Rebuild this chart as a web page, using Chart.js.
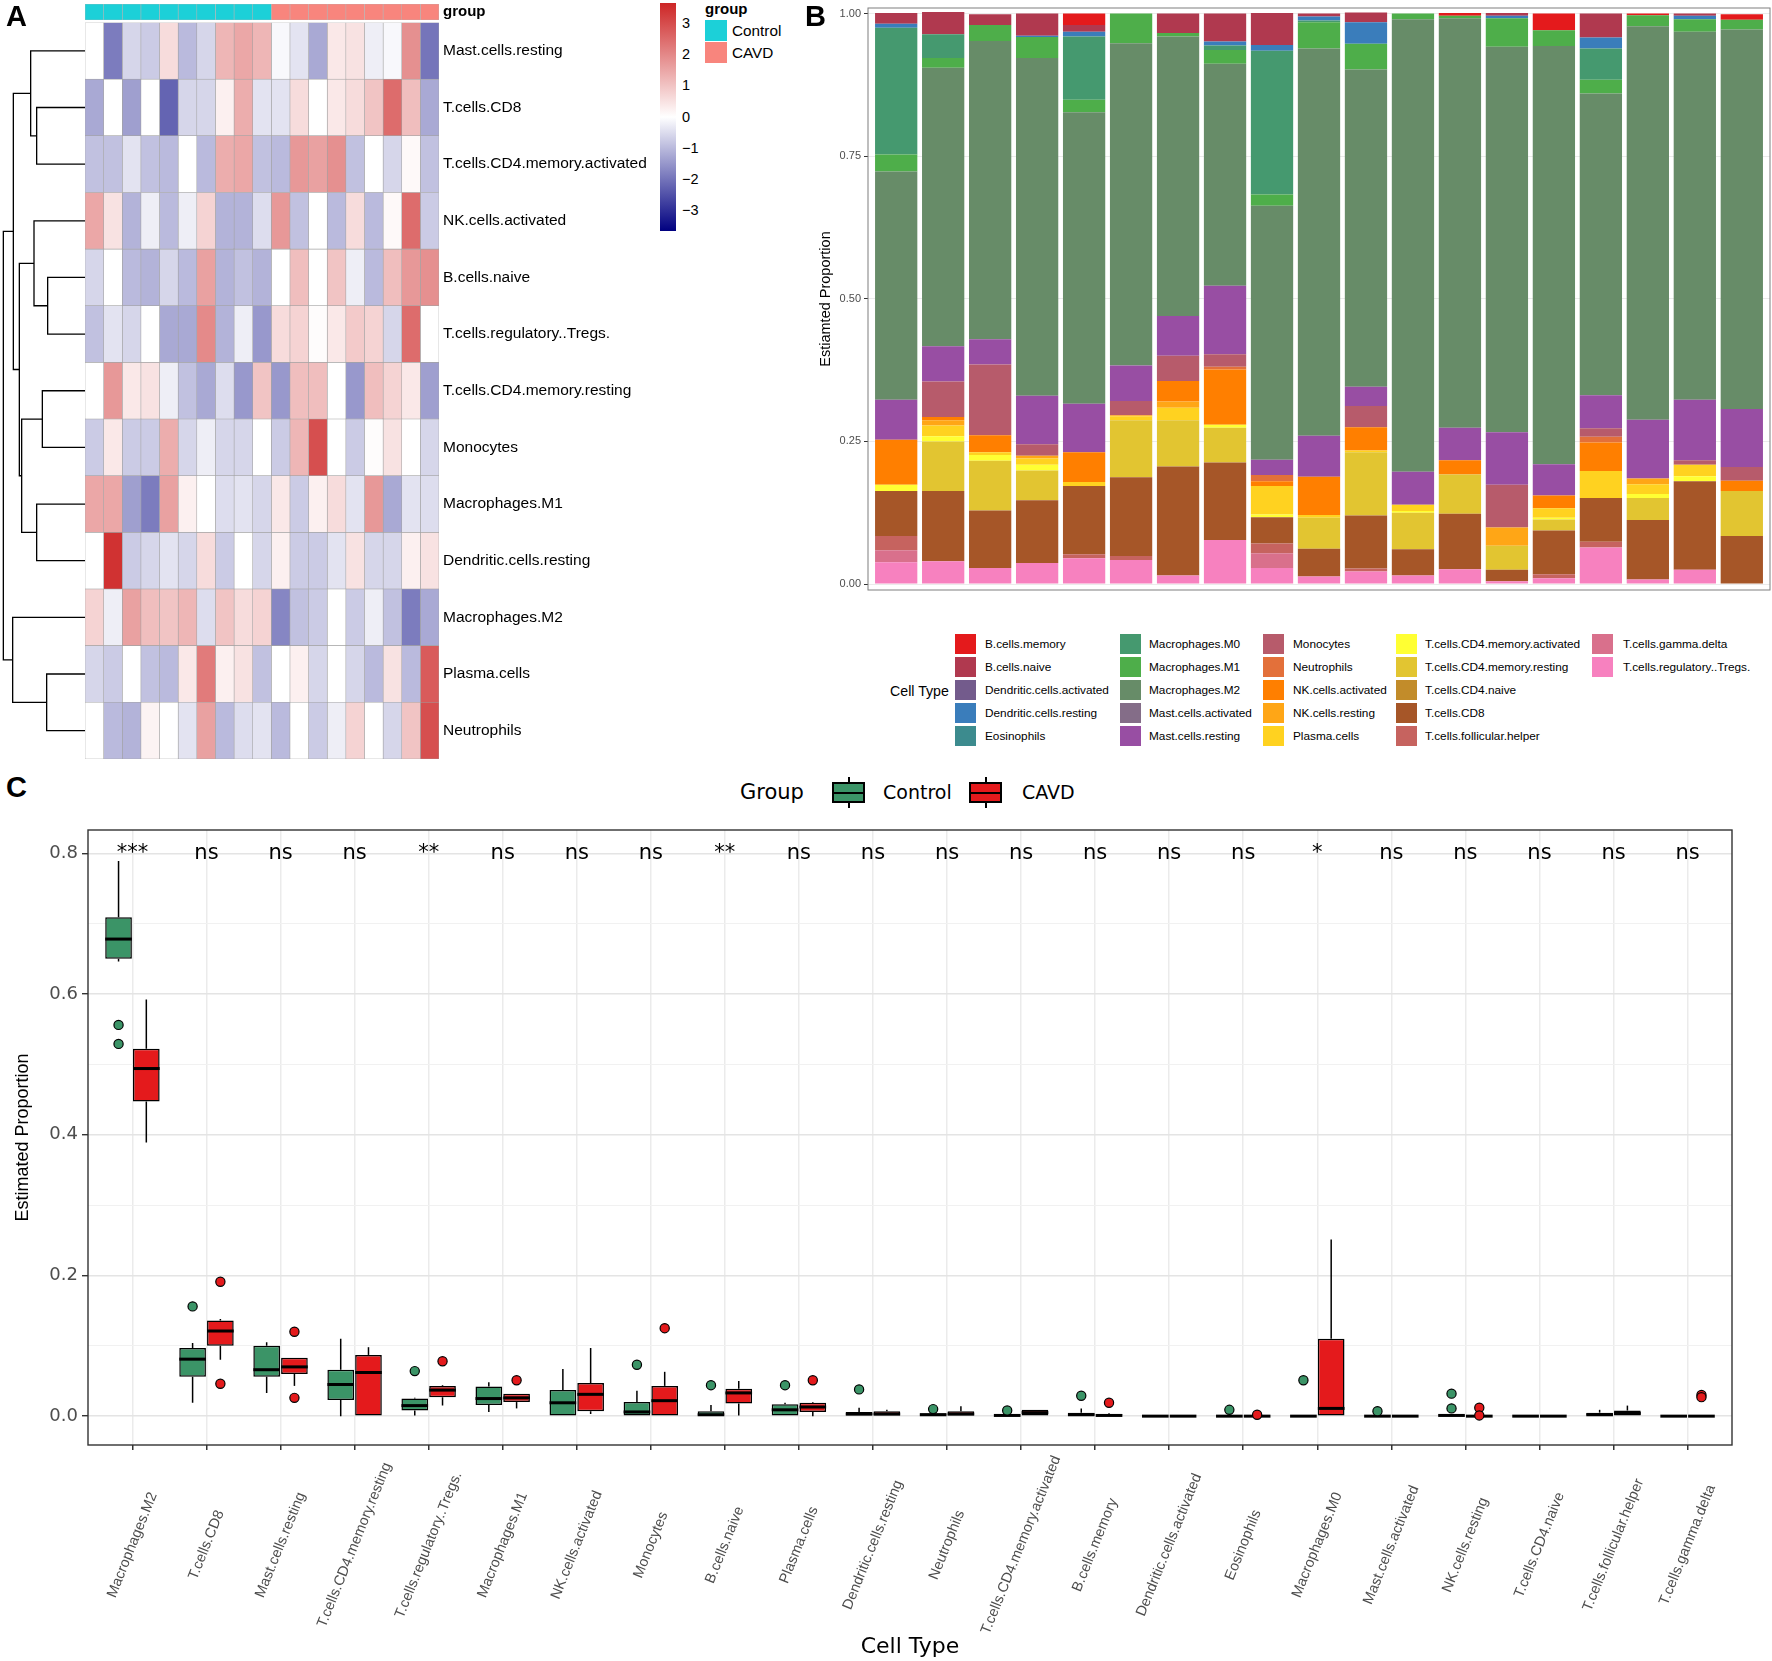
<!DOCTYPE html>
<html><head><meta charset="utf-8">
<script src="https://cdn.jsdelivr.net/npm/chart.js@4.4.1/dist/chart.umd.min.js"></script>
<style>
html,body{margin:0;padding:0;background:#fff;}
#wrap{position:relative;width:1772px;height:1661px;background:#fff;overflow:hidden;font-family:'Liberation Sans',Arial,sans-serif;color:#000;}
#wrap canvas{position:absolute;}
.t{position:absolute;white-space:nowrap;}
.box{position:absolute;}
</style></head>
<body><div id="wrap"></div>
<script>
// ===================== DATA =====================
// Panel A heatmap
const sampleIds = ['S1','S2','S3','S4','S5','S6','S7','S8','S9','S10','S11','S12','S13','S14','S15','S16','S17','S18','S19'];
const sampleGroup = ['Control','Control','Control','Control','Control','Control','Control','Control','Control','Control','CAVD','CAVD','CAVD','CAVD','CAVD','CAVD','CAVD','CAVD','CAVD'];
const heatRows = ['Mast.cells.resting','T.cells.CD8','T.cells.CD4.memory.activated','NK.cells.activated','B.cells.naive','T.cells.regulatory..Tregs.','T.cells.CD4.memory.resting','Monocytes','Macrophages.M1','Dendritic.cells.resting','Macrophages.M2','Plasma.cells','Neutrophils'];
const zMastResting = [0,-1.9,-0.6,-0.75,0.6,-1.0,-0.6,1.25,1.5,1.25,-0.1,-0.4,-1.25,0.4,0.5,-0.25,-0.1,1.9,-2.0];
const zTCD8        = [-1.25,0,-1.4,0,-2.25,-0.6,-0.6,0.25,1.4,-0.4,-0.4,0.6,0,0.4,0.6,1.0,2.5,1.1,-1.25];
const zTCD4MemAct  = [-0.9,-0.9,-0.4,-0.9,-1.0,0,-1.0,1.4,1.5,-0.9,-1.0,1.75,1.6,1.9,-0.9,0,-0.6,0.1,-0.9];
const zNKAct       = [1.5,0.5,-1.1,-0.25,-1.0,-0.25,0.75,-1.1,-1.1,-0.5,1.75,-0.9,0,-1.0,0.6,-1.0,0.1,2.5,-0.75];
const zBNaive      = [-0.6,0,-1.0,-1.1,-0.6,-1.0,1.6,-1.1,-0.9,-1.1,0,1.1,0,1.0,-0.25,-1.0,1.1,1.75,1.9];
const zTregs       = [-0.9,-0.4,-0.6,0,-1.25,-1.25,2.0,-1.1,-0.25,-1.5,0.6,0.75,0.05,0.4,0.9,0.75,-0.6,2.5,0];
const zTCD4MemRest = [0,1.75,0.4,0.5,-0.25,-0.9,-1.25,-0.5,-1.5,1.0,-1.5,1.1,1.1,0,-1.5,1.1,0.75,0.4,-1.4];
const zMonocytes   = [-0.75,0.4,-0.75,-0.75,1.4,-0.6,-0.25,-0.6,-0.6,0,-0.75,1.25,3.0,0,-0.75,0.05,0.5,0,-0.6];
const zM1          = [1.5,1.5,-1.4,-1.9,1.6,0.25,0,-0.5,-0.4,-0.6,0.4,-0.75,0.25,0.6,-0.4,1.75,-1.25,-0.4,-0.5];
const zDCRest      = [0,3.5,-0.75,-0.6,-0.4,-0.6,0.6,-0.75,0,-0.6,0.25,-0.75,-0.75,-0.4,0.5,-0.6,-0.6,0.25,0.5];
const zM2          = [0.75,-0.25,1.6,1.1,1.0,1.25,-0.5,1.0,0.6,0.75,-1.75,-0.9,-0.75,0,-0.75,-0.25,-0.9,-1.9,-1.25];
const zPlasma      = [-0.6,-0.75,0,-0.9,-1.0,0.4,2.25,0.25,0.5,-0.9,0,0.25,-0.6,0,-0.6,-1.0,0.5,-1.0,2.8];
const zNeutro      = [0,-1.0,-1.1,0.2,0,-0.4,1.6,-1.0,-0.5,-0.4,-1.0,0,-0.75,-0.25,0.75,0,-0.6,1.0,3.0];
const heatTicks = [3,2,1,0,-1,-2,-3];
// dendrogram merges: [left, right, height]; numbers = leaf rows, 'mK' = earlier merge K
const dendroMerges = [
  [1,2,145],[0,'m0',163],[4,5,112],[3,'m2',153],[6,7,128],[8,9,145],
  ['m4','m5',190],['m3','m6',197],['m1','m7',215],[11,12,115],[10,'m9',217],['m8','m10',245]
];

// Panel B stacked proportions (19 samples)
const bCellTypes = ['B.cells.memory','B.cells.naive','Dendritic.cells.activated','Dendritic.cells.resting','Eosinophils','Macrophages.M0','Macrophages.M1','Macrophages.M2','Mast.cells.activated','Mast.cells.resting','Monocytes','Neutrophils','NK.cells.activated','NK.cells.resting','Plasma.cells','T.cells.CD4.memory.activated','T.cells.CD4.memory.resting','T.cells.CD4.naive','T.cells.CD8','T.cells.follicular.helper','T.cells.gamma.delta','T.cells.regulatory..Tregs.'];
const pBMemory   = [0,0,0,0,0.020,0,0,0,0,0,0,0,0.005,0,0.029,0,0.003,0,0.010];
const pBNaive    = [0.019,0.039,0.019,0.039,0.012,0,0.034,0.049,0.056,0.005,0.017,0,0,0.005,0,0.042,0,0.004,0];
const pDCAct     = [0,0,0,0,0,0,0,0,0,0,0,0,0,0,0,0,0,0,0];
const pDCRest    = [0.007,0,0,0.002,0.008,0,0,0.007,0.010,0.007,0.038,0,0,0.004,0,0.019,0,0.006,0];
const pEosin     = [0,0,0,0,0,0,0,0,0,0,0,0,0,0,0,0,0,0,0];
const pM0        = [0.222,0.042,0,0,0.111,0,0,0.008,0.252,0.003,0,0,0,0,0,0.055,0,0,0];
const pM1        = [0.030,0.017,0.028,0.037,0.022,0.052,0.006,0.024,0.020,0.046,0.045,0.010,0.004,0.050,0.028,0.024,0.019,0.022,0.017];
const pM2        = [0.400,0.488,0.523,0.592,0.511,0.565,0.490,0.389,0.445,0.679,0.556,0.793,0.718,0.676,0.733,0.529,0.690,0.645,0.665];
const pMastAct   = [0,0,0,0,0,0,0,0,0,0,0,0,0,0,0,0,0,0,0];
const pMastRest  = [0.070,0.062,0.044,0.085,0.085,0.062,0.070,0.120,0.027,0.072,0.034,0.058,0.057,0.092,0.055,0.058,0.103,0.106,0.102];
const pMono      = [0,0.062,0.124,0.020,0,0.025,0.044,0.022,0,0,0.037,0,0,0.075,0,0.015,0,0.008,0.024];
const pNeutro    = [0,0,0,0,0,0,0,0.005,0.011,0,0,0,0,0,0,0.010,0,0,0];
const pNKAct     = [0.079,0.006,0.030,0,0.052,0,0.036,0.097,0.008,0.067,0.041,0,0.025,0,0.022,0.050,0,0,0.018];
const pNKRest    = [0,0.009,0,0.005,0,0.002,0.011,0,0,0,0,0,0,0.032,0,0,0.010,0,0];
const pPlasma    = [0,0.019,0.005,0.011,0.007,0.007,0.022,0,0.050,0.005,0.003,0.011,0,0,0.017,0.047,0.017,0.020,0];
const pCD4MemAct = [0.011,0.009,0.010,0.010,0,0,0,0.005,0.005,0,0,0.003,0,0,0.003,0,0.007,0.009,0];
const pCD4MemRest= [0,0.087,0.087,0.052,0,0.100,0.081,0.061,0,0.054,0.111,0.064,0.069,0.042,0.019,0,0.039,0,0.079];
const pCD4Naive  = [0,0,0,0,0,0,0,0,0,0,0,0,0,0,0,0,0,0,0];
const pCD8       = [0.079,0.123,0.101,0.110,0.120,0.138,0.191,0.136,0.046,0.049,0.093,0.046,0.097,0.020,0.077,0.077,0.104,0.155,0.084];
const pTfh       = [0.025,0,0,0,0.007,0.007,0,0,0.017,0,0.005,0,0,0,0.007,0.010,0,0,0];
const pGammaDelta= [0.021,0,0,0,0,0,0,0,0.026,0,0,0,0,0,0,0,0,0,0];
const pTregs     = [0.038,0.040,0.028,0.037,0.045,0.042,0.015,0.077,0.028,0.013,0.022,0.015,0.026,0.005,0.010,0.064,0.008,0.025,0];
const bTicks = [0,0.25,0.5,0.75,1];

// Panel C boxplots
const cCats = ['Macrophages.M2','T.cells.CD8','Mast.cells.resting','T.cells.CD4.memory.resting','T.cells.regulatory..Tregs.','Macrophages.M1','NK.cells.activated','Monocytes','B.cells.naive','Plasma.cells','Dendritic.cells.resting','Neutrophils','T.cells.CD4.memory.activated','B.cells.memory','Dendritic.cells.activated','Eosinophils','Macrophages.M0','Mast.cells.activated','NK.cells.resting','T.cells.CD4.naive','T.cells.follicular.helper','T.cells.gamma.delta'];
const cSig = ['***','ns','ns','ns','**','ns','ns','ns','**','ns','ns','ns','ns','ns','ns','ns','*','ns','ns','ns','ns','ns'];
const ctrlLow  = [0.646,0.019,0.033,0,0.001,0.006,0,0,0,0,0,0,0,0,0,0,0,0,0,0,0,0];
const ctrlQ1   = [0.650,0.056,0.056,0.023,0.008,0.016,0,0,0,0,0,0,0,0,0,0,0,0,0,0,0,0];
const ctrlMed  = [0.678,0.081,0.066,0.045,0.015,0.025,0.019,0.006,0.002,0.009,0.003,0.002,0.001,0.002,0,0,0,0,0.001,0,0.002,0];
const ctrlQ3   = [0.709,0.097,0.100,0.066,0.025,0.042,0.037,0.020,0.007,0.017,0.006,0.004,0.002,0.005,0,0,0,0,0.002,0,0.005,0];
const ctrlHigh = [0.789,0.104,0.105,0.110,0.026,0.048,0.067,0.036,0.016,0.019,0.012,0.004,0.002,0.011,0,0,0,0,0.002,0,0.009,0];
const ctrlOut  = [[0.556,0.529],[0.156],[],[],[0.064],[],[],[0.073],[0.044],[0.044],[0.038],[0.010],[0.008],[0.029],[],[0.009],[0.051],[0.007],[0.032,0.011],[],[],[]];
const cavdLow  = [0.389,0.080,0.043,0,0.015,0.011,0.003,0,0.001,0,0,0,0,0,0,0,0,0,0,0,0,0];
const cavdQ1   = [0.447,0.100,0.060,0,0.027,0.020,0.007,0,0.018,0.006,0,0,0,0,0,0,0,0,0,0,0,0];
const cavdMed  = [0.494,0.121,0.070,0.062,0.037,0.026,0.031,0.022,0.033,0.013,0.003,0.003,0.005,0.001,0,0,0.011,0,0,0,0.004,0];
const cavdQ3   = [0.522,0.136,0.083,0.087,0.043,0.032,0.047,0.043,0.039,0.019,0.007,0.007,0.009,0.003,0,0,0.110,0,0,0,0.008,0];
const cavdHigh = [0.592,0.138,0.083,0.098,0.044,0.032,0.097,0.063,0.050,0.020,0.009,0.014,0.009,0.004,0,0,0.251,0,0,0,0.015,0];
const cavdOut  = [[],[0.191,0.046],[0.120,0.026],[],[0.078],[0.051],[],[0.125],[],[0.051],[],[],[],[0.019],[],[0.002],[],[],[0.012,0.001],[],[],[0.030,0.027]];
const cYTicks = [0,0.1,0.2,0.3,0.4,0.5,0.6,0.7,0.8];

// ===================== STYLE / HELPERS =====================
const SANS = "'Liberation Sans', Arial, sans-serif";
const WIDE = "'DejaVu Sans', Verdana, sans-serif";
const groupColors = {Control:'#1CD0D8', CAVD:'#F8857D'};
const bColors = ['#E41A1C','#B0394F','#735B8C','#3A7DBB','#3C8B8E','#45996F','#4EAE4A','#678C68','#846D88','#984EA3','#B75B6B','#E3703A','#FF7F00','#FFA616','#FFD220','#FFFF33','#E2C531','#C28C2A','#A65628','#C6635F','#D9708C','#F781BF'];
const boxColors = {Control:'#3B9467', CAVD:'#E41A1C'};
const heatLimit = 3.7;
Chart.defaults.font.family = SANS;
const wrap = document.getElementById('wrap');

function mkCanvas(left, top, w, h){
  const c = document.createElement('canvas');
  c.width = w; c.height = h;
  c.style.left = left+'px'; c.style.top = top+'px';
  c.style.width = w+'px'; c.style.height = h+'px';
  wrap.appendChild(c);
  return c;
}
function txt(s, left, cy, size, opts){
  opts = opts || {};
  const d = document.createElement('div');
  d.className = 't';
  d.textContent = s;
  const lh = Math.round(size*1.3);
  d.style.left = left+'px';
  d.style.top = (cy - lh/2)+'px';
  d.style.lineHeight = lh+'px';
  d.style.fontSize = size+'px';
  d.style.fontFamily = opts.family || SANS;
  if (opts.bold) d.style.fontWeight = 'bold';
  if (opts.color) d.style.color = opts.color;
  wrap.appendChild(d);
  return d;
}
function rect(left, top, w, h, css){
  const d = document.createElement('div');
  d.className = 'box';
  d.style.left = left+'px'; d.style.top = top+'px';
  d.style.width = w+'px'; d.style.height = h+'px';
  Object.assign(d.style, css||{});
  wrap.appendChild(d);
  return d;
}
function mix(a, b, t){
  return 'rgb(' + a.map((v,i)=>Math.round(v+(b[i]-v)*t)).join(',') + ')';
}
function heatColor(v){
  const t = Math.max(-1, Math.min(1, v/heatLimit));
  return t >= 0 ? mix([255,255,255],[205,38,38],t) : mix([255,255,255],[0,0,128],-t);
}
const frame = (color, lw) => ({
  id:'frame',
  afterDraw(chart){
    const a = chart.chartArea, ctx = chart.ctx;
    ctx.save(); ctx.strokeStyle = color; ctx.lineWidth = lw;
    ctx.strokeRect(a.left, a.top, a.right-a.left, a.bottom-a.top);
    ctx.restore();
  }
});
const noPlug = {legend:{display:false}, tooltip:{enabled:false}};
const rightLabelFit = s => { s.width = 221; s.paddingTop = 0; s.paddingBottom = 0; };

// ===================== PANEL A =====================
const heatValues = [zMastResting,zTCD8,zTCD4MemAct,zNKAct,zBNaive,zTregs,zTCD4MemRest,zMonocytes,zM1,zDCRest,zM2,zPlasma,zNeutro];

// annotation bar (chart area y 4..20)
new Chart(mkCanvas(85, 0, 575, 26), {
  type:'bar',
  data:{
    labels:['group'],
    datasets: sampleIds.map((id,j)=>({
      label:id, data:[[j, j+1]],
      backgroundColor: groupColors[sampleGroup[j]],
      borderColor:'#B4B4B4', borderWidth:0.6, borderSkipped:false,
      grouped:false, barPercentage:1, categoryPercentage:1
    }))
  },
  options:{
    indexAxis:'y', responsive:false, animation:false, plugins:noPlug,
    layout:{padding:{top:4, bottom:6, left:0, right:0}},
    scales:{
      x:{type:'linear', bounds:'data', min:0, max:sampleIds.length, display:false},
      y:{position:'right', grid:{display:false, drawTicks:false}, border:{display:false},
         ticks:{padding:4, color:'#000', font:{size:15, weight:'bold', family:SANS}},
         afterFit: rightLabelFit}
    }
  }
});

// heatmap (chart area y 22.6..759)
new Chart(mkCanvas(85, 22, 575, 738), {
  type:'bar',
  data:{
    labels: heatRows,
    datasets: sampleIds.map((id,j)=>({
      label:id,
      data: heatRows.map(()=>[j, j+1]),
      backgroundColor: heatValues.map(row => heatColor(row[j])),
      borderColor:'#A3A3A3', borderWidth:0.6, borderSkipped:false,
      grouped:false, barPercentage:1, categoryPercentage:1
    }))
  },
  options:{
    indexAxis:'y', responsive:false, animation:false, plugins:noPlug,
    layout:{padding:{top:0.5, bottom:1, left:0, right:0}},
    scales:{
      x:{type:'linear', bounds:'data', min:0, max:sampleIds.length, display:false},
      y:{position:'right', grid:{display:false, drawTicks:false}, border:{display:false},
         ticks:{padding:4, color:'#000', autoSkip:false, font:{size:15.5, family:SANS}},
         afterFit: rightLabelFit}
    }
  }
});

// dendrogram
(function(){
  const nodes = [];
  const segs = [];
  const getNode = r => typeof r === 'number' ? {y:r, h:0} : nodes[+r.slice(1)];
  dendroMerges.forEach(([a,b,h])=>{
    const A = getNode(a), B = getNode(b);
    segs.push([{x:A.h,y:A.y},{x:h,y:A.y},{x:h,y:B.y},{x:B.h,y:B.y}]);
    nodes.push({y:(A.y+B.y)/2, h:h});
  });
  new Chart(mkCanvas(0, 22, 85, 738), {
    type:'scatter',
    data:{ datasets: segs.map(s=>({data:s, showLine:true, pointRadius:0, borderColor:'#000', borderWidth:1.3, tension:0})) },
    options:{
      responsive:false, animation:false, plugins:noPlug,
      layout:{padding:{top:0.5, bottom:1}},
      scales:{
        x:{type:'linear', bounds:'data', min:0, max:255, reverse:true, display:false},
        y:{type:'linear', bounds:'data', min:-0.5, max:heatRows.length-0.5, reverse:true, display:false}
      }
    }
  });
})();

// heat legend (colour bar)
rect(660, 3, 16, 228, {background:'linear-gradient(to bottom, rgb(205,38,38) 0%, #ffffff 50%, rgb(0,0,128) 100%)'});
heatTicks.forEach(v => txt(v < 0 ? '\u2212' + Math.abs(v) : String(v), 682, 117 - v*31.2, 14.5));
// group legend
txt('group', 705, 9, 15, {bold:true});
rect(705, 20, 22, 21, {background:groupColors.Control});
rect(705, 42, 22, 21, {background:groupColors.CAVD});
txt('Control', 732, 30.5, 15.3);
txt('CAVD', 732, 52.5, 15.3);
txt('A', 6, 16, 29, {bold:true});

// ===================== PANEL B =====================
const bValues = [pBMemory,pBNaive,pDCAct,pDCRest,pEosin,pM0,pM1,pM2,pMastAct,pMastRest,pMono,pNeutro,pNKAct,pNKRest,pPlasma,pCD4MemAct,pCD4MemRest,pCD4Naive,pCD8,pTfh,pGammaDelta,pTregs];
new Chart(mkCanvas(815, 0, 957, 600), {
  type:'bar',
  data:{
    datasets: bCellTypes.map((name,k)=>({
      label:name,
      data: bValues[k].map((v,i)=>({x:i, y:v})),
      backgroundColor: bColors[k], borderWidth:0,
      barPercentage:0.9, categoryPercentage:1
    })).reverse()
  },
  options:{
    responsive:false, animation:false, plugins:noPlug,
    layout:{padding:{top:8, right:2, bottom:10, left:0}},
    scales:{
      x:{type:'linear', bounds:'data', offset:false, stacked:true, min:-0.6, max:sampleIds.length-0.4, display:false,
         afterBuildTicks: s => { s.ticks = sampleIds.map((id,i)=>({value:i})); }},
      y:{stacked:true, bounds:'data', min:-0.0105, max:1.0098,
         afterBuildTicks: s => { s.ticks = bTicks.map(v=>({value:v})); },
         ticks:{callback: v => Number(v).toFixed(2), color:'#4D4D4D', font:{size:11, family:SANS}, padding:3},
         grid:{color:'#EBEBEB', tickColor:'#333', tickLength:4, lineWidth:1},
         border:{display:false},
         title:{display:true, text:'Estiamted Proportion', color:'#000', font:{size:14.5, family:SANS}, padding:{top:2, bottom:0}},
         afterFit: s => { s.width = 53; s.paddingTop = 0; s.paddingBottom = 0; }}
    }
  },
  plugins:[frame('#7F7F7F', 1)]
});
txt('B', 805, 16, 29, {bold:true});
// legend B
txt('Cell Type', 890, 691, 14.2);
const colKeyX = [955, 1120, 1263, 1396, 1592];
const colTextX = [985, 1149, 1293, 1425, 1623];
bCellTypes.forEach((name,k)=>{
  const c = Math.floor(k/5), r = k%5;
  const cy = 644 + r*23;
  rect(colKeyX[c], cy-10, 21, 20, {background:bColors[k]});
  txt(name, colTextX[c], cy, 11.8);
});

// ===================== PANEL C =====================
const cGroups = [
  {name:'Control', low:ctrlLow, q1:ctrlQ1, med:ctrlMed, q3:ctrlQ3, high:ctrlHigh, out:ctrlOut},
  {name:'CAVD', low:cavdLow, q1:cavdQ1, med:cavdMed, q3:cavdQ3, high:cavdHigh, out:cavdOut}
];
const isMajor = v => Math.round(v*10) % 2 === 0;
const boxParts = {
  id:'boxParts',
  beforeDatasetsDraw(chart){
    const ctx = chart.ctx, ys = chart.scales.y;
    ctx.save(); ctx.strokeStyle = '#000'; ctx.lineWidth = 1.5;
    cGroups.forEach((g,d)=>{
      chart.getDatasetMeta(d).data.forEach((el,i)=>{
        ctx.beginPath();
        ctx.moveTo(el.x, ys.getPixelForValue(g.high[i]));
        ctx.lineTo(el.x, ys.getPixelForValue(g.q3[i]));
        ctx.moveTo(el.x, ys.getPixelForValue(g.q1[i]));
        ctx.lineTo(el.x, ys.getPixelForValue(g.low[i]));
        ctx.stroke();
      });
    });
    ctx.restore();
  },
  afterDatasetsDraw(chart){
    const ctx = chart.ctx, ys = chart.scales.y;
    ctx.save();
    cGroups.forEach((g,d)=>{
      chart.getDatasetMeta(d).data.forEach((el,i)=>{
        const y = ys.getPixelForValue(g.med[i]);
        ctx.strokeStyle = '#000'; ctx.lineWidth = 3;
        ctx.beginPath(); ctx.moveTo(el.x - el.width/2, y); ctx.lineTo(el.x + el.width/2, y); ctx.stroke();
        g.out[i].forEach(v=>{
          ctx.beginPath();
          ctx.arc(el.x, ys.getPixelForValue(v), 4.6, 0, Math.PI*2);
          ctx.fillStyle = boxColors[g.name]; ctx.fill();
          ctx.lineWidth = 1.2; ctx.strokeStyle = '#000'; ctx.stroke();
        });
      });
    });
    ctx.restore();
  },
  afterDraw(chart){
    const ctx = chart.ctx, xs = chart.scales.x, ys = chart.scales.y, a = chart.chartArea;
    ctx.save();
    // significance labels
    ctx.fillStyle = '#000'; ctx.textAlign = 'center'; ctx.textBaseline = 'middle';
    ctx.font = "21px " + WIDE;
    cSig.forEach((s,i)=> ctx.fillText(s, xs.getPixelForValue(i), ys.getPixelForValue(0.8)));
    // rotated category labels
    ctx.fillStyle = '#4D4D4D'; ctx.font = "14.5px " + SANS;
    cCats.forEach((s,i)=>{
      ctx.save();
      ctx.translate(xs.getPixelForValue(i), a.bottom + 100);
      ctx.rotate(-68*Math.PI/180);
      ctx.fillText(s, 0, 0);
      ctx.restore();
    });
    // panel border
    ctx.strokeStyle = '#333'; ctx.lineWidth = 1.4;
    ctx.strokeRect(a.left, a.top, a.right-a.left, a.bottom-a.top);
    ctx.restore();
  }
};
new Chart(mkCanvas(0, 815, 1772, 846), {
  type:'bar',
  data:{
    datasets: cGroups.map(g=>({
      label:g.name,
      data: cCats.map((c,i)=>({x:i, y:[g.q1[i], g.q3[i]]})),
      backgroundColor: boxColors[g.name], borderColor:'#000', borderWidth:1.5, borderSkipped:false,
      barPercentage:0.96, categoryPercentage:0.75
    }))
  },
  options:{
    responsive:false, animation:false, plugins:noPlug,
    layout:{padding:{top:15, right:40, bottom:0, left:0}},
    scales:{
      x:{type:'linear', bounds:'data', offset:false, min:-0.6, max:cCats.length-0.4,
         afterBuildTicks: s => { s.ticks = cCats.map((c,i)=>({value:i})); },
         ticks:{callback: () => '', maxRotation:0, autoSkip:false},
         grid:{color:'#EBEBEB', lineWidth:1.5, tickColor:'#333', tickLength:5, offset:false},
         border:{display:false},
         title:{display:true, text:'Cell Type', color:'#000', font:{size:22, family:WIDE}, padding:{top:0, bottom:1}},
         afterFit: s => { s.height = 216; }},
      y:{bounds:'data', min:-0.041, max:0.833,
         afterBuildTicks: s => { s.ticks = cYTicks.map(v=>({value:v})); },
         ticks:{callback: v => isMajor(v) ? Number(v).toFixed(1) : '', color:'#4D4D4D', font:{size:18, family:WIDE}, padding:4},
         grid:{
           color: c => (c.tick && isMajor(c.tick.value)) ? '#E4E4E4' : '#F1F1F1',
           lineWidth: c => (c.tick && isMajor(c.tick.value)) ? 1.4 : 1,
           tickColor: c => (c.tick && isMajor(c.tick.value)) ? '#333' : 'rgba(0,0,0,0)',
           tickLength:6},
         border:{display:false},
         title:{display:true, text:'Estimated Proportion', color:'#000', font:{size:18, family:SANS}, padding:{top:12, bottom:0}},
         afterFit: s => { s.width = 88; }}
    }
  },
  plugins:[boxParts]
});
txt('C', 6, 787, 29, {bold:true});
// legend C
txt('Group', 740, 792, 21, {family:WIDE});
function legendKey(left, color){
  rect(left, 782, 33, 21, {background:color, border:'2px solid #000', boxSizing:'border-box'});
  rect(left, 791.5, 33, 2, {background:'#000'});
  rect(left+15.5, 777, 2, 5, {background:'#000'});
  rect(left+15.5, 803, 2, 5, {background:'#000'});
}
legendKey(832, boxColors.Control);
txt('Control', 883, 792, 19, {family:WIDE});
legendKey(969, boxColors.CAVD);
txt('CAVD', 1022, 792, 19, {family:WIDE});
</script>
</body></html>
